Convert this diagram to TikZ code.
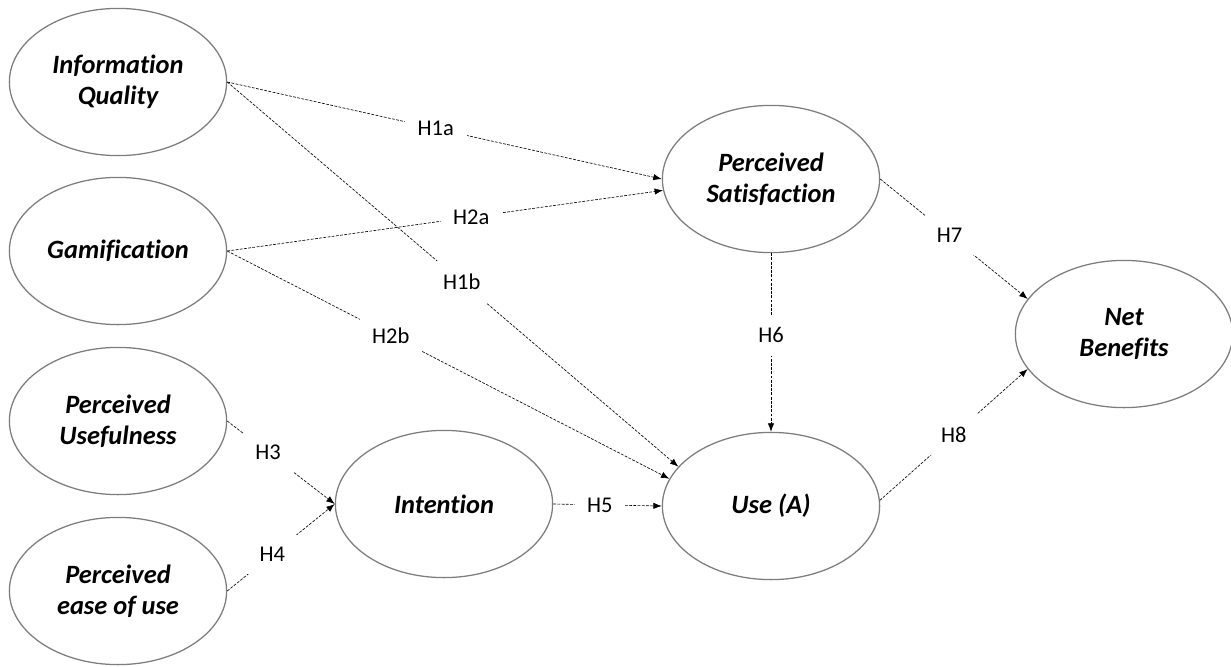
\documentclass[tikz,border=0pt]{standalone}
\usepackage{fontspec}
\setmainfont{Carlito}[Ligatures=CommonOff]
\usepackage{tikz}
\usetikzlibrary{shapes,arrows,arrows.meta,positioning}
\definecolor{ellgray}{RGB}{125,125,125}

\tikzset{
  construct/.style={ellipse, draw=ellgray, line width=0.9pt, fill=white,
    minimum width=5.43cm, minimum height=3.68cm, inner sep=0pt, align=center,
    font=\fontsize{18.8}{22}\selectfont\bfseries\itshape},
  hyp/.style={line width=0.45pt, dash pattern=on 2pt off 1pt,
    -{Latex[length=6pt,width=4.5pt]}},
  hlabel/.style={fill=white, inner sep=9pt, font=\fontsize{16}{18}\selectfont}
}

\begin{document}
\begin{tikzpicture}[x=0.025cm, y=-0.025cm]
  \useasboundingbox (0,0) rectangle (1231,666);
  % constructs
  \node[construct] (iq) at (118,82) {Information\\Quality};
  \node[construct] (gam) at (118,251) {Gamification};
  \node[construct] (pu) at (118,421) {Perceived\\Usefulness};
  \node[construct] (peu) at (118,591) {Perceived\\ease of use};
  \node[construct] (int) at (444,504) {Intention};
  \node[construct] (ps) at (771,179) {Perceived\\Satisfaction};
  \node[construct] (use) at (771,506) {Use (A)};
  \node[construct] (net) at (1124,334) {Net\\Benefits};
  % hypotheses
  \draw[hyp] (iq.east) -- node[hlabel, pos=0.48] {H1a} (ps.west);
  \draw[hyp] (gam.east) -- node[hlabel, pos=0.56] {H2a} (ps.186);
  \draw[hyp] (iq.east) -- node[hlabel, pos=0.52] {H1b} (use.157);
  \draw[hyp] (gam.east) -- node[hlabel, pos=0.37] {H2b} (use.165);
  \draw[hyp] (pu.east) -- node[hlabel, pos=0.38] {H3} (int.west);
  \draw[hyp] (peu.east) -- node[hlabel, pos=0.42] {H4} (int.west);
  \draw[hyp] (int.east) -- node[hlabel, pos=0.43] {H5} (use.west);
  \draw[hyp] (ps.south) -- node[hlabel, pos=0.46] {H6} (use.north);
  \draw[hyp] (ps.east) -- node[hlabel, pos=0.47] {H7} (net.160);
  \draw[hyp] (use.3) -- node[hlabel, pos=0.5] {H8} (net.200);
\end{tikzpicture}
\end{document}
